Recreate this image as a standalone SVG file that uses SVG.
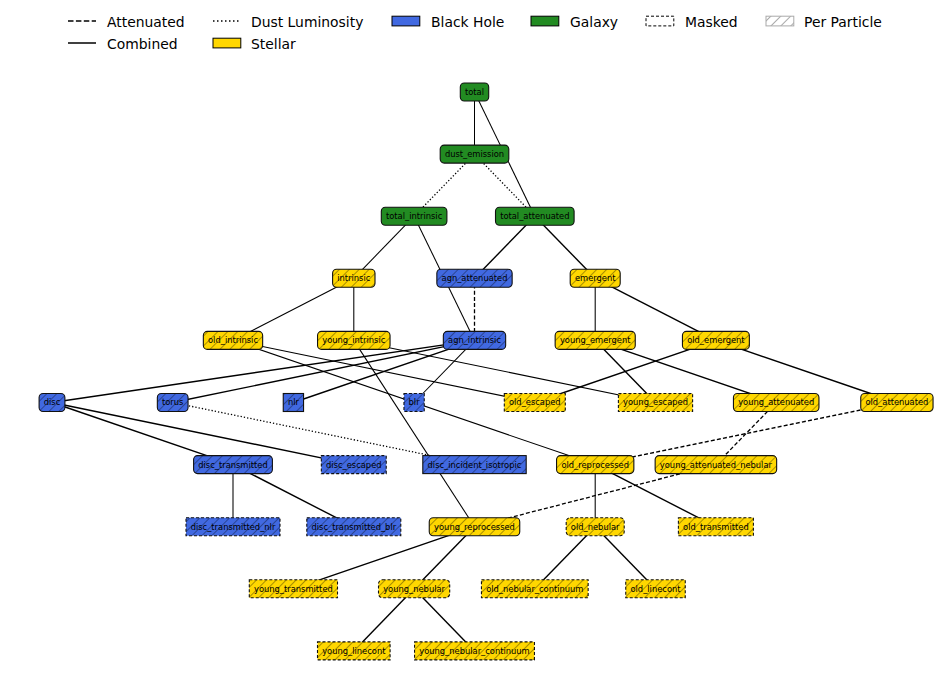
<svg xmlns="http://www.w3.org/2000/svg" width="950" height="690" viewBox="0 0 950 690">
  <defs>
    <pattern id="hatch" patternUnits="userSpaceOnUse" width="7" height="7" patternTransform="rotate(45)">
      <line x1="3.5" y1="0" x2="3.5" y2="7" stroke="#000" stroke-opacity="0.38" stroke-width="0.9"/>
    </pattern>
    <pattern id="hatch-grey" patternUnits="userSpaceOnUse" width="7" height="7" patternTransform="rotate(45)">
      <line x1="3.5" y1="0" x2="3.5" y2="7" stroke="#aaa" stroke-width="1"/>
    </pattern>
  </defs>
  <style>
    text { font-family: "DejaVu Sans", "Liberation Sans", sans-serif; fill: #000; }
    .node text { font-size: 8.33px; text-anchor: middle; }
    .legend text { font-size: 13.9px; }
    .bh { fill: #4169e1; }
    .st { fill: #ffd700; }
    .edge { stroke: #000; stroke-width: 1.4; fill: none; }
    .thin { stroke-width: 1.05; }
    .dash { stroke-width: 1.3; stroke-dasharray: 4 2.2; }
    .dot { stroke-width: 1.3; stroke-dasharray: 1.3 2; }
    .border { stroke: #111; stroke-width: 1.1; }
    .hb { fill: url(#hatch); stroke: #111; stroke-width: 1.1; }
    .masked { stroke-dasharray: 3 2; }
    .rnd { rx: 4; ry: 4; }
  </style>
  <rect width="950" height="690" fill="#fff"/>

  <!-- legend -->
  <g id="legend" class="legend">
    <line x1="68" y1="21" x2="96" y2="21" stroke="#000" stroke-width="1.5" stroke-dasharray="5.5 2.4"/>
    <text x="107" y="26.8">Attenuated</text>
    <line x1="68" y1="43" x2="96" y2="43" stroke="#000" stroke-width="1.5"/>
    <text x="107" y="48.8">Combined</text>
    <line x1="213" y1="21" x2="241" y2="21" stroke="#000" stroke-width="1.5" stroke-dasharray="1.5 2.5"/>
    <text x="251" y="26.8">Dust Luminosity</text>
    <rect x="213" y="38.2" width="27.8" height="9.7" fill="#ffd700" stroke="#000" stroke-width="1"/>
    <text x="251" y="48.8">Stellar</text>
    <rect x="392" y="16.2" width="27.8" height="9.7" fill="#4169e1" stroke="#000" stroke-width="1"/>
    <text x="431" y="26.8">Black Hole</text>
    <rect x="531" y="16.2" width="27.8" height="9.7" fill="#228b22" stroke="#000" stroke-width="1"/>
    <text x="570" y="26.8">Galaxy</text>
    <rect x="646" y="16.2" width="27.8" height="9.7" fill="#fff" stroke="#000" stroke-width="1" stroke-dasharray="3 2"/>
    <text x="685" y="26.8">Masked</text>
    <rect x="766" y="16.2" width="27.8" height="9.7" fill="url(#hatch-grey)" stroke="#aaa" stroke-width="1"/>
    <text x="804" y="26.8">Per Particle</text>
  </g>

  <!-- connectors, centre to centre, drawn beneath the nodes -->
  <g id="edges">
    <line class="edge thin" x1="474.5" y1="92" x2="474.5" y2="154.1"/>
    <line class="edge thin" x1="474.5" y1="92" x2="534.8" y2="216.2"/>
    <line class="edge dot" x1="474.5" y1="154.1" x2="414.1" y2="216.2"/>
    <line class="edge dot" x1="474.5" y1="154.1" x2="534.8" y2="216.2"/>
    <line class="edge thin" x1="414.1" y1="216.2" x2="353.8" y2="278.3"/>
    <line class="edge thin" x1="414.1" y1="216.2" x2="474.5" y2="340.4"/>
    <line class="edge" x1="534.8" y1="216.2" x2="474.5" y2="278.3"/>
    <line class="edge" x1="534.8" y1="216.2" x2="595.2" y2="278.3"/>
    <line class="edge dash" x1="474.5" y1="278.3" x2="474.5" y2="340.4"/>
    <line class="edge thin" x1="353.8" y1="278.3" x2="233" y2="340.4"/>
    <line class="edge thin" x1="353.8" y1="278.3" x2="353.8" y2="340.4"/>
    <line class="edge thin" x1="595.2" y1="278.3" x2="595.2" y2="340.4"/>
    <line class="edge" x1="595.2" y1="278.3" x2="715.9" y2="340.4"/>
    <line class="edge" x1="474.5" y1="340.4" x2="52" y2="402.5"/>
    <line class="edge" x1="474.5" y1="340.4" x2="172.7" y2="402.5"/>
    <line class="edge" x1="474.5" y1="340.4" x2="293.4" y2="402.5"/>
    <line class="edge thin" x1="474.5" y1="340.4" x2="414.1" y2="402.5"/>
    <line class="edge thin" x1="233" y1="340.4" x2="534.8" y2="402.5"/>
    <line class="edge thin" x1="233" y1="340.4" x2="595.2" y2="464.6"/>
    <line class="edge thin" x1="353.8" y1="340.4" x2="655.5" y2="402.5"/>
    <line class="edge thin" x1="353.8" y1="340.4" x2="474.5" y2="526.7"/>
    <line class="edge" x1="595.2" y1="340.4" x2="655.5" y2="402.5"/>
    <line class="edge" x1="595.2" y1="340.4" x2="776.2" y2="402.5"/>
    <line class="edge" x1="715.9" y1="340.4" x2="534.8" y2="402.5"/>
    <line class="edge" x1="715.9" y1="340.4" x2="896.9" y2="402.5"/>
    <line class="edge" x1="52" y1="402.5" x2="233" y2="464.6"/>
    <line class="edge" x1="52" y1="402.5" x2="353.8" y2="464.6"/>
    <line class="edge dot" x1="172.7" y1="402.5" x2="474.5" y2="464.6"/>
    <line class="edge dash" x1="776.2" y1="402.5" x2="715.9" y2="464.6"/>
    <line class="edge dash" x1="896.9" y1="402.5" x2="595.2" y2="464.6"/>
    <line class="edge dash" x1="715.9" y1="464.6" x2="474.5" y2="526.7"/>
    <line class="edge thin" x1="233" y1="464.6" x2="233" y2="526.7"/>
    <line class="edge" x1="233" y1="464.6" x2="353.8" y2="526.7"/>
    <line class="edge thin" x1="595.2" y1="464.6" x2="595.2" y2="526.7"/>
    <line class="edge" x1="595.2" y1="464.6" x2="715.9" y2="526.7"/>
    <line class="edge" x1="474.5" y1="526.7" x2="293.4" y2="588.8"/>
    <line class="edge" x1="474.5" y1="526.7" x2="414.1" y2="588.8"/>
    <line class="edge" x1="595.2" y1="526.7" x2="534.8" y2="588.8"/>
    <line class="edge" x1="595.2" y1="526.7" x2="655.5" y2="588.8"/>
    <line class="edge" x1="414.1" y1="588.8" x2="353.8" y2="650.9"/>
    <line class="edge" x1="414.1" y1="588.8" x2="474.5" y2="650.9"/>
  </g>

  <!-- nodes -->
  <g id="nodes">
    <g id="total" class="node"><rect class="border rnd" fill="#228b22" x="460.3" y="83" width="28.4" height="18"/><text x="474.5" y="94.9">total</text></g>
    <g id="dust_emission" class="node"><rect class="border rnd" fill="#228b22" x="440.2" y="145.1" width="68.6" height="18"/><text x="474.5" y="157">dust_emission</text></g>
    <g id="total_intrinsic" class="node"><rect class="border rnd" fill="#228b22" x="381.3" y="207.2" width="65.6" height="18"/><text x="414.1" y="219.1">total_intrinsic</text></g>
    <g id="total_attenuated" class="node"><rect class="border rnd" fill="#228b22" x="495.5" y="207.2" width="78.6" height="18"/><text x="534.8" y="219.1">total_attenuated</text></g>

    <g id="intrinsic" class="node"><rect class="st rnd" x="332.6" y="269.3" width="42.4" height="18"/><rect class="hb rnd" x="332.6" y="269.3" width="42.4" height="18"/><text x="353.8" y="281.2">intrinsic</text></g>
    <g id="agn_attenuated" class="node"><rect class="bh rnd" x="436.85" y="269.3" width="75.3" height="18"/><rect class="hb rnd" x="436.85" y="269.3" width="75.3" height="18"/><text x="474.5" y="281.2">agn_attenuated</text></g>
    <g id="emergent" class="node"><rect class="st rnd" x="570.2" y="269.3" width="50" height="18"/><rect class="hb rnd" x="570.2" y="269.3" width="50" height="18"/><text x="595.2" y="281.2">emergent</text></g>

    <g id="old_intrinsic" class="node"><rect class="st rnd" x="203.35" y="331.4" width="59.3" height="18"/><rect class="hb rnd" x="203.35" y="331.4" width="59.3" height="18"/><text x="233" y="343.3">old_intrinsic</text></g>
    <g id="young_intrinsic" class="node"><rect class="st rnd" x="317.55" y="331.4" width="72.5" height="18"/><rect class="hb rnd" x="317.55" y="331.4" width="72.5" height="18"/><text x="353.8" y="343.3">young_intrinsic</text></g>
    <g id="agn_intrinsic" class="node"><rect class="bh rnd" x="443.35" y="331.4" width="62.3" height="18"/><rect class="hb rnd" x="443.35" y="331.4" width="62.3" height="18"/><text x="474.5" y="343.3">agn_intrinsic</text></g>
    <g id="young_emergent" class="node"><rect class="st rnd" x="555.15" y="331.4" width="80.1" height="18"/><rect class="hb rnd" x="555.15" y="331.4" width="80.1" height="18"/><text x="595.2" y="343.3">young_emergent</text></g>
    <g id="old_emergent" class="node"><rect class="st rnd" x="682.45" y="331.4" width="66.9" height="18"/><rect class="hb rnd" x="682.45" y="331.4" width="66.9" height="18"/><text x="715.9" y="343.3">old_emergent</text></g>

    <g id="disc" class="node"><rect class="bh rnd" x="39.1" y="393.5" width="25.8" height="18"/><rect class="hb rnd" x="39.1" y="393.5" width="25.8" height="18"/><text x="52" y="405.4">disc</text></g>
    <g id="torus" class="node"><rect class="bh rnd" x="157.35" y="393.5" width="30.7" height="18"/><rect class="hb rnd" x="157.35" y="393.5" width="30.7" height="18"/><text x="172.7" y="405.4">torus</text></g>
    <g id="nlr" class="node"><rect class="bh" x="283.25" y="393.5" width="20.3" height="18"/><rect class="hb" x="283.25" y="393.5" width="20.3" height="18"/><text x="293.4" y="405.4">nlr</text></g>
    <g id="blr" class="node"><rect class="bh" x="403.95" y="393.5" width="20.3" height="18"/><rect class="hb masked" x="403.95" y="393.5" width="20.3" height="18"/><text x="414.1" y="405.4">blr</text></g>
    <g id="old_escaped" class="node"><rect class="st" x="504.3" y="393.5" width="61" height="18"/><rect class="hb masked" x="504.3" y="393.5" width="61" height="18"/><text x="534.8" y="405.4">old_escaped</text></g>
    <g id="young_escaped" class="node"><rect class="st" x="618.4" y="393.5" width="74.2" height="18"/><rect class="hb masked" x="618.4" y="393.5" width="74.2" height="18"/><text x="655.5" y="405.4">young_escaped</text></g>
    <g id="young_attenuated" class="node"><rect class="st rnd" x="733.45" y="393.5" width="85.5" height="18"/><rect class="hb rnd" x="733.45" y="393.5" width="85.5" height="18"/><text x="776.2" y="405.4">young_attenuated</text></g>
    <g id="old_attenuated" class="node"><rect class="st rnd" x="860.75" y="393.5" width="72.3" height="18"/><rect class="hb rnd" x="860.75" y="393.5" width="72.3" height="18"/><text x="896.9" y="405.4">old_attenuated</text></g>

    <g id="disc_transmitted" class="node"><rect class="bh rnd" x="193.6" y="455.6" width="78.8" height="18"/><rect class="hb rnd" x="193.6" y="455.6" width="78.8" height="18"/><text x="233" y="467.5">disc_transmitted</text></g>
    <g id="disc_escaped" class="node"><rect class="bh" x="321.35" y="455.6" width="64.9" height="18"/><rect class="hb masked" x="321.35" y="455.6" width="64.9" height="18"/><text x="353.8" y="467.5">disc_escaped</text></g>
    <g id="disc_incident_isotropic" class="node"><rect class="bh" x="422.8" y="455.6" width="103.4" height="18"/><rect class="hb" x="422.8" y="455.6" width="103.4" height="18"/><text x="474.5" y="467.5">disc_incident_isotropic</text></g>
    <g id="old_reprocessed" class="node"><rect class="st rnd" x="556.55" y="455.6" width="77.3" height="18"/><rect class="hb rnd" x="556.55" y="455.6" width="77.3" height="18"/><text x="595.2" y="467.5">old_reprocessed</text></g>
    <g id="young_attenuated_nebular" class="node"><rect class="st rnd" x="655.15" y="455.6" width="121.5" height="18"/><rect class="hb rnd" x="655.15" y="455.6" width="121.5" height="18"/><text x="715.9" y="467.5">young_attenuated_nebular</text></g>

    <g id="disc_transmitted_nlr" class="node"><rect class="bh" x="186" y="517.7" width="94" height="18"/><rect class="hb masked" x="186" y="517.7" width="94" height="18"/><text x="233" y="529.6">disc_transmitted_nlr</text></g>
    <g id="disc_transmitted_blr" class="node"><rect class="bh" x="306.8" y="517.7" width="94" height="18"/><rect class="hb masked" x="306.8" y="517.7" width="94" height="18"/><text x="353.8" y="529.6">disc_transmitted_blr</text></g>
    <g id="young_reprocessed" class="node"><rect class="st rnd" x="429.25" y="517.7" width="90.5" height="18"/><rect class="hb rnd" x="429.25" y="517.7" width="90.5" height="18"/><text x="474.5" y="529.6">young_reprocessed</text></g>
    <g id="old_nebular" class="node"><rect class="st rnd" x="566.2" y="517.7" width="58" height="18"/><rect class="hb rnd masked" x="566.2" y="517.7" width="58" height="18"/><text x="595.2" y="529.6">old_nebular</text></g>
    <g id="old_transmitted" class="node"><rect class="st" x="678.4" y="517.7" width="75" height="18"/><rect class="hb masked" x="678.4" y="517.7" width="75" height="18"/><text x="715.9" y="529.6">old_transmitted</text></g>

    <g id="young_transmitted" class="node"><rect class="st" x="249.3" y="579.8" width="88.2" height="18"/><rect class="hb masked" x="249.3" y="579.8" width="88.2" height="18"/><text x="293.4" y="591.7">young_transmitted</text></g>
    <g id="young_nebular" class="node"><rect class="st rnd" x="378.5" y="579.8" width="71.2" height="18"/><rect class="hb rnd masked" x="378.5" y="579.8" width="71.2" height="18"/><text x="414.1" y="591.7">young_nebular</text></g>
    <g id="old_nebular_continuum" class="node"><rect class="st" x="481.45" y="579.8" width="106.7" height="18"/><rect class="hb masked" x="481.45" y="579.8" width="106.7" height="18"/><text x="534.8" y="591.7">old_nebular_continuum</text></g>
    <g id="old_linecont" class="node"><rect class="st" x="625.75" y="579.8" width="59.5" height="18"/><rect class="hb masked" x="625.75" y="579.8" width="59.5" height="18"/><text x="655.5" y="591.7">old_linecont</text></g>

    <g id="young_linecont" class="node"><rect class="st" x="317.5" y="641.9" width="72.6" height="18"/><rect class="hb masked" x="317.5" y="641.9" width="72.6" height="18"/><text x="353.8" y="653.8">young_linecont</text></g>
    <g id="young_nebular_continuum" class="node"><rect class="st" x="414.55" y="641.9" width="119.9" height="18"/><rect class="hb masked" x="414.55" y="641.9" width="119.9" height="18"/><text x="474.5" y="653.8">young_nebular_continuum</text></g>
  </g>
</svg>
